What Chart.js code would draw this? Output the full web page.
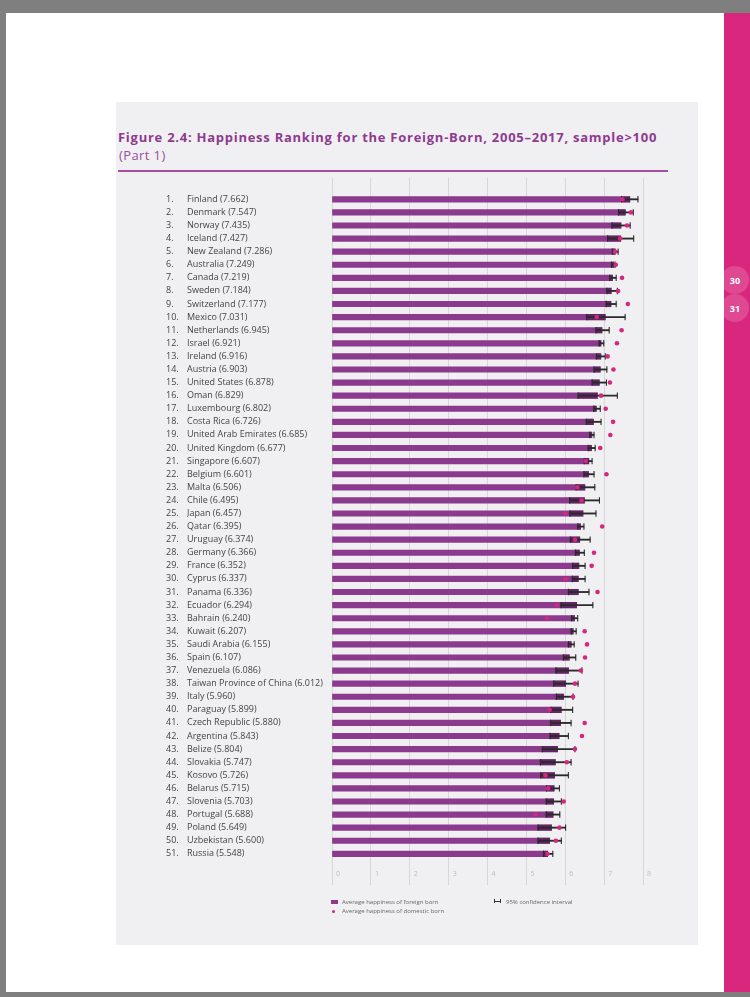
<!DOCTYPE html>
<html>
<head>
<meta charset="utf-8">
<script src="https://cdn.jsdelivr.net/npm/chart.js@4.4.1/dist/chart.umd.min.js"></script>
<style>
  body{margin:0;width:750px;height:997px;background:#7f7f7f;position:relative;overflow:hidden;font-family:"Open Sans",sans-serif}
  #page{position:absolute;left:6px;top:13px;width:718px;height:979px;background:#fff}
  #side{position:absolute;left:724px;top:13px;width:26px;height:979px;background:#d9277d;overflow:hidden}
  .tab{position:absolute;left:-3px;width:28px;height:28px;border-radius:50%;background:rgba(255,255,255,0.16);color:#fff;font:bold 9px "Open Sans";display:flex;align-items:center;justify-content:center}
  #panel{position:absolute;left:116px;top:102px;width:582px;height:843px;background:#f0f0f2}
  #title{position:absolute;left:118px;top:128px;font-weight:bold;font-size:13px;letter-spacing:0.74px;color:#8e3a8f;white-space:nowrap}
  #part{position:absolute;left:119px;top:146px;font-size:13px;letter-spacing:0.4px;color:#9d4d9c;white-space:nowrap}
  #rule{position:absolute;left:118px;top:170px;width:550px;height:1.5px;background:#a24fa0}
  #wrap{position:absolute;left:160px;top:170px;width:500px;height:740px}
  .lg{position:absolute;font-size:6px;color:#666;white-space:nowrap;line-height:8px}
</style>
</head>
<body>
<div id="page"></div>
<div id="side">
  <div class="tab" style="top:253px">30</div>
  <div class="tab" style="top:281px">31</div>
</div>
<div id="panel"></div>
<div id="title">Figure 2.4: Happiness Ranking for the Foreign-Born, 2005–2017, sample&gt;100</div>
<div id="part">(Part 1)</div>
<div id="rule"></div>
<div id="wrap"><canvas id="chart"></canvas></div>

<div style="position:absolute;left:331px;top:900px;width:7px;height:4px;background:#8b3a8e"></div>
<div class="lg" style="left:342px;top:898px">Average happiness of foreign born</div>
<div style="position:absolute;left:332px;top:910px;width:3px;height:3px;border-radius:50%;background:#d6267f"></div>
<div class="lg" style="left:342px;top:907px">Average happiness of domestic born</div>
<div style="position:absolute;left:494px;top:899px;width:5px;height:4px;border-left:1px solid #333;border-right:1px solid #333"></div>
<div style="position:absolute;left:495px;top:901px;width:5px;height:1px;background:#333"></div>
<div class="lg" style="left:506px;top:898px">95% confidence interval</div>

<script>
const countries = ["Finland","Denmark","Norway","Iceland","New Zealand","Australia","Canada","Sweden","Switzerland","Mexico",
  "Netherlands","Israel","Ireland","Austria","United States","Oman","Luxembourg","Costa Rica","United Arab Emirates","United Kingdom",
  "Singapore","Belgium","Malta","Chile","Japan","Qatar","Uruguay","Germany","France","Cyprus",
  "Panama","Ecuador","Bahrain","Kuwait","Saudi Arabia","Spain","Venezuela","Taiwan Province of China","Italy","Paraguay",
  "Czech Republic","Argentina","Belize","Slovakia","Kosovo","Belarus","Slovenia","Portugal","Poland","Uzbekistan","Russia"];

const foreign = [7.662,7.547,7.435,7.427,7.286,7.249,7.219,7.184,7.177,7.031,
  6.945,6.921,6.916,6.903,6.878,6.829,6.802,6.726,6.685,6.677,
  6.607,6.601,6.506,6.495,6.457,6.395,6.374,6.366,6.352,6.337,
  6.336,6.294,6.240,6.207,6.155,6.107,6.086,6.012,5.960,5.899,
  5.880,5.843,5.804,5.747,5.726,5.715,5.703,5.688,5.649,5.600,5.548];

const ciLow = [7.45,7.37,7.20,7.09,7.21,7.19,7.14,7.07,7.05,6.55,
  6.79,6.87,6.80,6.74,6.69,6.33,6.73,6.54,6.63,6.59,
  6.49,6.48,6.28,6.11,6.12,6.32,6.13,6.26,6.19,6.18,
  6.08,5.89,6.16,6.15,6.08,5.95,5.76,5.70,5.77,5.63,
  5.62,5.61,5.41,5.36,5.37,5.52,5.51,5.51,5.30,5.30,5.44];

const ciHigh = [7.87,7.75,7.67,7.76,7.36,7.28,7.31,7.34,7.31,7.54,
  7.13,6.99,7.03,7.07,7.06,7.34,6.90,6.92,6.74,6.77,
  6.69,6.74,6.76,6.88,6.79,6.48,6.64,6.49,6.51,6.51,
  6.61,6.71,6.32,6.28,6.23,6.27,6.43,6.33,6.20,6.19,
  6.15,6.08,6.25,6.15,6.08,5.85,5.90,5.86,6.01,5.90,5.68];

const domestic = [7.47,7.69,7.59,7.41,7.28,7.30,7.46,7.36,7.61,6.81,
  7.45,7.33,7.09,7.24,7.15,6.92,7.04,7.23,7.16,6.90,
  6.53,7.06,6.31,6.42,6.00,6.95,6.25,6.74,6.68,6.01,
  6.83,5.78,5.53,6.50,6.56,6.51,6.40,6.25,6.20,5.60,
  6.50,6.43,6.25,6.04,5.49,5.56,5.96,5.24,5.85,5.76,5.54];

const xTicks = [0,1,2,3,4,5,6,7,8];

const purple = "#8b3a8e";
const pink = "#d6267f";
const ink = "#2a2a2a";
const labelFont = {family:"Open Sans", size:9};

// one tick per country row (linear axis so the grid can run above/below the rows)
const rowTicks = s => { s.ticks = countries.map((c,i)=>({value:i})); };

new Chart(document.getElementById("chart"), {
  type: "bar",
  data: {
    datasets: [
      {
        label: "Average happiness of foreign born",
        data: foreign.map((v,i)=>({x:v, y:i})),
        backgroundColor: purple, barThickness: 5.5, grouped: false, order: 5,
        xAxisID: "x", yAxisID: "y"
      },
      {
        label: "ci overlap",
        data: ciLow.map((lo,i)=>({x:[lo, Math.min(ciHigh[i], foreign[i])], y:i})),
        backgroundColor: "rgba(55,15,55,0.5)", barThickness: 5.5, grouped: false, order: 4,
        xAxisID: "x", yAxisID: "y"
      },
      {
        label: "95% confidence interval",
        data: ciLow.map((lo,i)=>({x:[lo, ciHigh[i]], y:i})),
        backgroundColor: ink, barThickness: 1.2, grouped: false, order: 3,
        xAxisID: "x", yAxisID: "y"
      },
      {
        type: "scatter", label: "ci caps",
        data: ciLow.map((lo,i)=>({x:lo, y:i})).concat(ciHigh.map((hi,i)=>({x:hi, y:i}))),
        pointStyle: "line", rotation: 90, pointRadius: 3.2, borderColor: ink, borderWidth: 1.1, order: 2,
        xAxisID: "x", yAxisID: "y"
      },
      {
        type: "scatter", label: "Average happiness of domestic born",
        data: domestic.map((v,i)=>({x:v, y:i})),
        pointRadius: 2.3, backgroundColor: pink, borderWidth: 0, order: 1,
        xAxisID: "x", yAxisID: "y"
      }
    ]
  },
  options: {
    indexAxis: "y",
    responsive: true,
    maintainAspectRatio: false,
    animation: false,
    layout: { padding: { left: 6, top: 8, right: 17, bottom: 11 } },
    plugins: { legend: { display: false }, tooltip: { enabled: false } },
    scales: {
      x: {
        type: "linear", position: "bottom", min: 0, max: 8,
        afterBuildTicks: s => { s.ticks = xTicks.map(v=>({value:v})); },
        grid: { color: "#d7d7da", lineWidth: 1, drawTicks: false },
        border: { display: false },
        ticks: { mirror: true, align: "start", labelOffset: 4, padding: 7, color: "#bdbdbd", font: {family:"Open Sans", size:7} }
      },
      y: {
        type: "linear", position: "left", reverse: true, offset: false, bounds: "data", min: -1.627, max: 52.38, weight: 0,
        afterBuildTicks: rowTicks,
        afterFit: s => { s.width = 145; },
        grid: { display: false }, border: { display: false },
        ticks: { autoSkip: false, crossAlign: "far", padding: 0, color: "#444", font: labelFont,
          callback: (v, i) => countries[i] + " (" + foreign[i].toFixed(3) + ")" }
      },
      yRank: {
        type: "linear", position: "left", reverse: true, offset: false, bounds: "data", min: -1.627, max: 52.38, weight: 1,
        afterBuildTicks: rowTicks,
        afterFit: s => { s.width = 21; },
        grid: { display: false }, border: { display: false },
        ticks: { autoSkip: false, crossAlign: "far", padding: 0, color: "#444", font: labelFont,
          callback: (v, i) => (i + 1) + "." }
      }
    }
  }
});
</script>
</body>
</html>
